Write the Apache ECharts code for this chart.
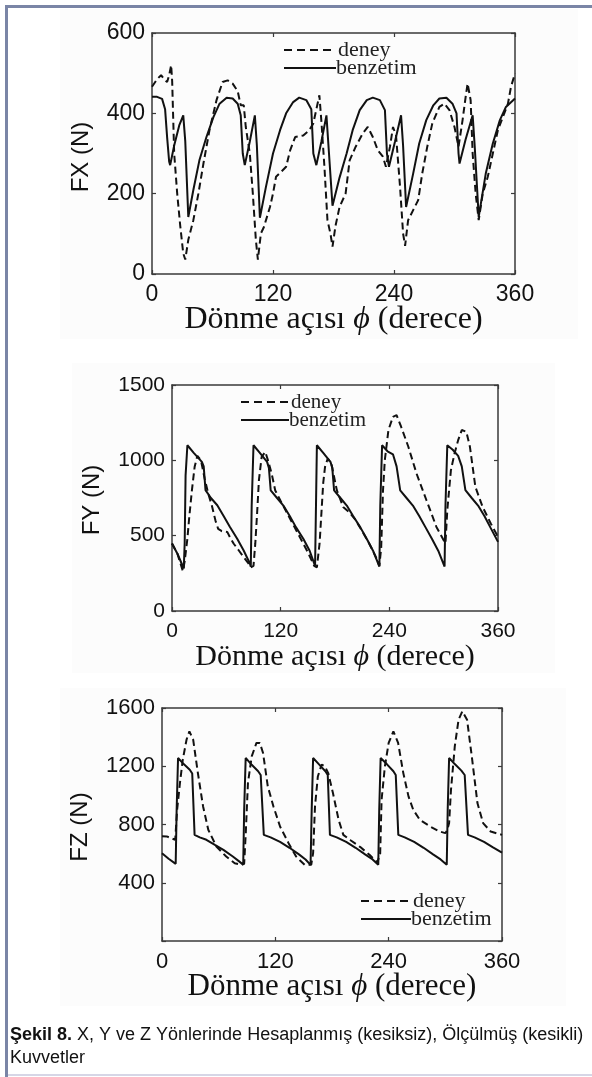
<!DOCTYPE html>
<html>
<head>
<meta charset="utf-8">
<script src="https://cdn.jsdelivr.net/npm/echarts@6/dist/echarts.min.js"></script>
<style>
html,body{margin:0;padding:0;background:#fff;}
#c{width:592px;height:1077px;}
</style>
</head>
<body>
<div id="c"></div>
<script>
// ---------- data ----------
const xTicks = [0, 120, 240, 360];
const seriesNames = ['deney', 'benzetim'];

// FX (N) vs rotation angle (deg)
const fxDeney = [[0,466],[5,485],[9,495],[12,485],[15,478],[17,495],[19,520],[20,480],[22,300],[25,200],[28,120],[31,51],[33,36],[36,85],[41,134],[46,200],[51,275],[57,358],[64,433],[70,478],[75,482],[80,474],[85,455],[88,420],[91,420],[93,366],[97,300],[100,200],[103,85],[105,36],[108,101],[111,117],[117,167],[120,200],[123,242],[128,254],[133,267],[137,308],[142,341],[150,345],[156,358],[160,375],[163,410],[166,445],[168,380],[171,267],[174,134],[177,100],[179,68],[182,120],[186,167],[192,200],[196,283],[202,317],[209,350],[214,366],[219,341],[224,308],[229,292],[232,267],[236,317],[239,366],[242,345],[246,217],[249,101],[251,70],[254,134],[259,159],[264,184],[268,250],[273,317],[278,375],[285,416],[290,424],[295,408],[300,366],[304,317],[308,383],[311,440],[313,474],[316,433],[318,300],[321,200],[324,134],[328,200],[333,242],[338,300],[343,358],[348,391],[353,424],[356,466],[360,499]];
const fxBenzetim = [[0,441],[5,441],[10,436],[13,410],[15,340],[17,280],[18,271],[22,320],[27,370],[31,395],[33,330],[36,142],[41,209],[47,283],[54,341],[61,391],[67,424],[74,439],[80,437],[85,424],[88,395],[90,300],[92,271],[97,330],[102,395],[104,320],[107,140],[113,217],[120,300],[127,358],[133,400],[140,428],[146,439],[153,433],[158,410],[160,300],[163,271],[168,330],[173,395],[175,320],[179,170],[186,240],[193,300],[199,358],[206,408],[213,433],[219,439],[226,433],[231,408],[233,300],[235,267],[241,330],[247,395],[249,320],[252,167],[259,250],[265,325],[272,383],[279,420],[285,437],[292,439],[298,424],[302,400],[304,300],[305,275],[311,335],[318,395],[320,320],[324,142],[331,250],[338,325],[345,383],[351,416],[360,437]];

// FY (N)
const fyDeney = [[0,448],[6,380],[12,265],[14,330],[17,480],[19,620],[22,802],[25,957],[28,1030],[30,1040],[32,1000],[34,990],[36,880],[40,780],[44,700],[48,600],[51,545],[55,530],[61,525],[64,490],[68,448],[74,400],[79,359],[84,320],[87,290],[90,300],[92,450],[94,650],[96,870],[99,1023],[103,1056],[106,1000],[110,913],[114,800],[120,730],[127,650],[135,560],[143,470],[150,390],[157,300],[160,290],[163,450],[165,650],[167,850],[169,957],[172,1012],[176,979],[182,802],[189,691],[195,660],[202,610],[210,530],[218,445],[225,360],[229,300],[231,420],[233,800],[235,1000],[239,1201],[244,1289],[248,1300],[253,1223],[261,1090],[270,913],[281,735],[292,558],[300,470],[302,450],[304,669],[308,935],[312,1046],[316,1134],[320,1201],[325,1190],[329,1090],[335,824],[343,691],[352,581],[360,492]];
const fyBenzetim = [[0,448],[6,380],[13,282],[14,450],[15,900],[17,1100],[24,1050],[30,1010],[33,990],[35,960],[37,802],[43,750],[50,702],[57,630],[64,558],[72,480],[79,403],[86,315],[87,293],[88,700],[90,1100],[97,1050],[103,1005],[105,990],[107,950],[109,800],[116,750],[123,700],[130,630],[137,555],[145,480],[152,400],[158,300],[159,700],[160,1100],[167,1050],[173,1005],[175,990],[177,950],[179,800],[186,750],[193,700],[200,630],[208,555],[215,480],[222,400],[229,295],[230,700],[232,1100],[238,1060],[244,1040],[248,960],[252,800],[259,750],[266,700],[273,630],[280,555],[287,480],[294,400],[301,295],[302,700],[304,1100],[310,1070],[316,1030],[320,960],[324,802],[331,750],[338,700],[345,630],[352,550],[360,459]];

// FZ (N)
const fzDeney = [[0,720],[5,718],[10,705],[14,695],[16,900],[19,1085],[22,1245],[26,1383],[29,1440],[33,1383],[38,1153],[43.5,924],[49,764],[57.6,649],[68,580],[77,534],[84,523],[87,530],[88.7,741],[91,1085],[95,1268],[100,1360],[103.6,1360],[107,1291],[112,1062],[118,924],[125,786],[134,672],[142,580],[151,523],[158,523],[160,603],[162,924],[165,1130],[169,1211],[172.5,1199],[176,1153],[181,1016],[187,832],[192,729],[200,690],[210,645],[220,590],[228,540],[231,600],[232.5,970],[236,1199],[240,1360],[245,1440],[250,1360],[255.5,1153],[261,993],[266,901],[273,832],[284,786],[294,752],[300,741],[302,760],[304,810],[306,1039],[310,1336],[314,1520],[318,1577],[323,1520],[328,1268],[334,947],[340,810],[348,752],[360,729]];
const fzBenzetim = [[0,603],[7,565],[14.5,530],[15.5,900],[17,1257],[23,1215],[29.4,1176],[32,1150],[34.5,729],[40,712],[47,695],[56,660],[65,626],[75,580],[82,545],[86,523],[87,900],[88.6,1257],[95,1210],[101.8,1166],[104.5,1140],[107.8,729],[115,712],[125,680],[135,640],[145,595],[152,560],[157.3,523],[158.5,900],[160,1257],[166,1215],[173,1166],[175.5,1140],[177.8,729],[185,712],[195,680],[205,640],[215,595],[223,560],[229,523],[230,900],[231.5,1257],[238,1215],[245,1166],[247.5,1140],[250.2,729],[257,712],[267,680],[277,640],[287,595],[295,560],[301.5,523],[302.5,900],[304,1257],[310,1215],[317,1170],[320.5,1140],[324,729],[331,712],[341,680],[350,645],[360,607]];

const yLabels = ['FX (N)', 'FY (N)', 'FZ (N)'];
const xLabelMain = 'Dönme açısı ';
const xLabelPhi = 'ϕ';
const xLabelTail = ' (derece)';
const captionBold = 'Şekil 8.';
const captionLine1 = ' X, Y ve Z Yönlerinde Hesaplanmış (kesiksiz), Ölçülmüş (kesikli)';
const captionLine2 = 'Kuvvetler';

// ---------- layout ----------
const panels = [
  {grid:{left:152, top:33, width:363, height:241}, yMax:600, yInt:200, tick:23, hideZero:false,
   yName:{x:81, y:157}, xName:{y:320, size:32}, leg:{x:284, y:50, len:52, tx:338, size:22, gap:18}, labM:9},
  {grid:{left:172, top:385, width:326, height:226}, yMax:1500, yInt:500, tick:21, hideZero:false,
   yName:{x:92, y:500}, xName:{y:657, size:30}, leg:{x:241, y:402, len:48, tx:291, size:21, gap:18}, labM:10},
  {grid:{left:162, top:708, width:340, height:233}, yMax:1600, yInt:400, tick:22, hideZero:true,
   yName:{x:80, y:827}, xName:{y:987, size:31}, leg:{x:361, y:901, len:50, tx:413, size:22, gap:18}, labM:10}
];
const fxyz = [[fxDeney, fxBenzetim],[fyDeney, fyBenzetim],[fzDeney, fzBenzetim]];

const BOX = '#3a3a3a';
const LINE = '#111';
const grids=[], xAxes=[], yAxes=[], series=[], graphic=[];

// page decorations
graphic.push({type:'rect', shape:{x:5,y:5,width:587,height:3}, style:{fill:'#7a85a6'}, silent:true});
graphic.push({type:'rect', shape:{x:5,y:5,width:3,height:1072}, style:{fill:'#7a85a6'}, silent:true});
graphic.push({type:'rect', shape:{x:8,y:1074,width:584,height:2}, style:{fill:'#d6d6e6'}, silent:true});
graphic.push({type:'rect', shape:{x:60,y:9,width:518,height:330}, style:{fill:'#fcfcfc'}, silent:true, z:-10});
graphic.push({type:'rect', shape:{x:72,y:363,width:483,height:310}, style:{fill:'#fcfcfc'}, silent:true, z:-10});
graphic.push({type:'rect', shape:{x:60,y:688,width:506,height:318}, style:{fill:'#fcfcfc'}, silent:true, z:-10});

panels.forEach((p, i) => {
  grids.push(Object.assign({containLabel:false}, p.grid));
  const common = {gridIndex:i, type:'value', min:0, max:360, interval:120,
    axisLine:{show:true, onZero:false, lineStyle:{color:BOX, width:1.5}},
    axisTick:{show:true, inside:true, length:4, lineStyle:{color:BOX, width:1.2}},
    splitLine:{show:false}};
  xAxes.push(Object.assign({}, common, {position:'bottom',
    axisLabel:{show:true, margin:p.labM, color:'#111', fontSize:p.tick, fontFamily:'Liberation Sans, Arial, sans-serif',
      formatter: v => xTicks.includes(v) ? String(v) : ''}}));
  xAxes.push(Object.assign({}, common, {position:'top', axisLabel:{show:false}}));
  const ycommon = {gridIndex:i, type:'value', min:0, max:p.yMax, interval:p.yInt,
    axisLine:{show:true, onZero:false, lineStyle:{color:BOX, width:1.5}},
    axisTick:{show:true, inside:true, length:4, lineStyle:{color:BOX, width:1.2}},
    splitLine:{show:false}};
  yAxes.push(Object.assign({}, ycommon, {position:'left',
    axisLabel:{show:true, margin:7, color:'#111', fontSize:p.tick, fontFamily:'Liberation Sans, Arial, sans-serif',
      formatter: v => (p.hideZero && v === 0) ? '' : String(v)}}));
  yAxes.push(Object.assign({}, ycommon, {position:'right', axisLabel:{show:false}}));

  const [dn, bz] = fxyz[i];
  series.push({name:seriesNames[0], type:'line', xAxisIndex:2*i, yAxisIndex:2*i, data:dn,
    showSymbol:false, symbol:'none', clip:true, animation:false,
    lineStyle:{color:LINE, width:2, type:[7,4]}});
  series.push({name:seriesNames[1], type:'line', xAxisIndex:2*i, yAxisIndex:2*i, data:bz,
    showSymbol:false, symbol:'none', clip:true, animation:false,
    lineStyle:{color:LINE, width:2, type:'solid'}});

  // axis titles
  graphic.push({type:'text', x:p.yName.x, y:p.yName.y, rotation:Math.PI/2,
    style:{text:yLabels[i], textAlign:'center', textVerticalAlign:'middle', fontSize:24,
      fontFamily:'Liberation Sans, Arial, sans-serif', fill:'#111'}});
  graphic.push({type:'text', x:p.grid.left + p.grid.width/2, y:p.xName.y,
    style:{text: xLabelMain + '{i|' + xLabelPhi + '}' + xLabelTail, textAlign:'center', textVerticalAlign:'middle',
      fontSize:p.xName.size, fontFamily:'Liberation Serif, Times New Roman, serif', fill:'#111',
      rich:{i:{fontStyle:'italic', fontSize:p.xName.size, fontFamily:'Liberation Serif, Times New Roman, serif', fill:'#111'}}}});

  // legend
  const L = p.leg;
  graphic.push({type:'line', shape:{x1:L.x, y1:L.y, x2:L.x+L.len, y2:L.y},
    style:{stroke:LINE, lineWidth:2, lineDash:[8,5]}, silent:true});
  graphic.push({type:'line', shape:{x1:L.x, y1:L.y+L.gap, x2:L.x+L.len, y2:L.y+L.gap},
    style:{stroke:LINE, lineWidth:2}, silent:true});
  graphic.push({type:'text', x:L.tx, y:L.y, style:{text:seriesNames[0], textAlign:'left', textVerticalAlign:'middle',
    fontSize:L.size, fontFamily:'Liberation Serif, Times New Roman, serif', fill:'#222'}});
  graphic.push({type:'text', x:L.tx-2, y:L.y+L.gap, style:{text:seriesNames[1], textAlign:'left', textVerticalAlign:'middle',
    fontSize:L.size, fontFamily:'Liberation Serif, Times New Roman, serif', fill:'#222'}});
});

// caption
graphic.push({type:'text', x:10, y:1035, style:{text:'{b|' + captionBold + '}' + captionLine1,
  textAlign:'left', textVerticalAlign:'middle', fontSize:18, fontFamily:'Liberation Sans, Arial, sans-serif', fill:'#111',
  rich:{b:{fontWeight:'bold', fontSize:18, fontFamily:'Liberation Sans, Arial, sans-serif', fill:'#111'}}}});
graphic.push({type:'text', x:10, y:1058, style:{text:captionLine2, textAlign:'left', textVerticalAlign:'middle',
  fontSize:18, fontFamily:'Liberation Sans, Arial, sans-serif', fill:'#111'}});

const chart = echarts.init(document.getElementById('c'), null, {renderer:'canvas'});
chart.setOption({
  backgroundColor:'#ffffff',
  animation:false,
  grid:grids, xAxis:xAxes, yAxis:yAxes, series:series, graphic:graphic
});
</script>
</body>
</html>
